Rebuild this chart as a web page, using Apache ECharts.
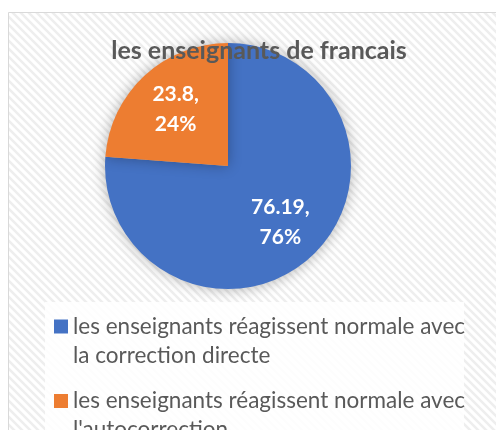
<!DOCTYPE html>
<html>
<head>
<meta charset="utf-8">
<script src="https://cdn.jsdelivr.net/npm/echarts@6/dist/echarts.min.js"></script>
<style>
html,body{margin:0;padding:0;background:#fff;}
#c{width:496px;height:430px;}
</style>
</head>
<body>
<div id="c"></div>
<script>
const title = 'les enseignants de francais';
const categories = [
  'les enseignants réagissent normale avec la correction directe',
  "les enseignants réagissent normale avec l'autocorrection"
];
const values = [76.19, 23.8];
const colors = ['#4472C4', '#ED7D31'];

// hatch pattern
const pc = document.createElement('canvas');
pc.width = 8; pc.height = 8;
const g = pc.getContext('2d');
g.fillStyle = '#ffffff'; g.fillRect(0, 0, 8, 8);
g.strokeStyle = '#eeeeee'; g.lineWidth = 2.5;
g.beginPath();
g.moveTo(-2, -2); g.lineTo(10, 10);
g.moveTo(-10, -2); g.lineTo(2, 10);
g.moveTo(6, -2); g.lineTo(18, 10);
g.stroke();

const FONT = 'Lato';
const chart = echarts.init(document.getElementById('c'), null, {renderer: 'canvas'});
const data = categories.map((n, i) => ({name: n, value: values[i], itemStyle: {color: colors[i]}}));

chart.setOption({
  backgroundColor: '#ffffff',
  animation: false,
  title: {
    text: title,
    left: 254, top: 33, textAlign: 'center',
    textStyle: {fontFamily: FONT, fontWeight: 'bold', fontSize: 25, color: '#595959'}
  },
  graphic: [
    {type: 'rect', z: -10, shape: {x: 8.5, y: 12.5, width: 600, height: 500},
     style: {fill: {image: pc, repeat: 'repeat'}, stroke: '#d9d9d9', lineWidth: 1}},
    {type: 'rect', z: -5, shape: {x: 45, y: 302, width: 419, height: 200},
     style: {fill: 'rgba(255,255,255,0.85)'}}
  ],
  legend: {
    orient: 'vertical',
    left: 54, top: 283,
    height: 400,
    padding: 0,
    itemGap: -12.5,
    itemWidth: 14, itemHeight: 14,
    icon: 'rect',
    data: categories.map((n, i) => ({name: n, itemStyle: {color: colors[i]}})),
    formatter: n => '\n' + n,
    textStyle: {fontFamily: FONT, fontSize: 22.5, color: '#595959', lineHeight: 29,
      width: 412, overflow: 'break'}
  },
  series: [
    {
      type: 'pie', center: [228, 166], radius: [0, 123],
      startAngle: 90, clockwise: true,
      silent: true,
      data: data,
      label: {show: false}, labelLine: {show: false},
      itemStyle: {shadowBlur: 14, shadowColor: 'rgba(0,0,0,0.3)'}
    },
    {
      type: 'pie', center: [228, 166], radius: [25, 123],
      startAngle: 90, clockwise: true,
      silent: true,
      data: categories.map((n, i) => ({name: n, value: values[i], itemStyle: {color: 'rgba(0,0,0,0)'}})),
      label: {
        show: true, position: 'inside',
        fontFamily: FONT, fontWeight: 'bold', fontSize: 21, color: '#ffffff', lineHeight: 30,
        formatter: p => p.value + ',\n' + Math.round(p.percent) + '%'
      },
      labelLine: {show: false}
    }
  ]
});
</script>
</body>
</html>
